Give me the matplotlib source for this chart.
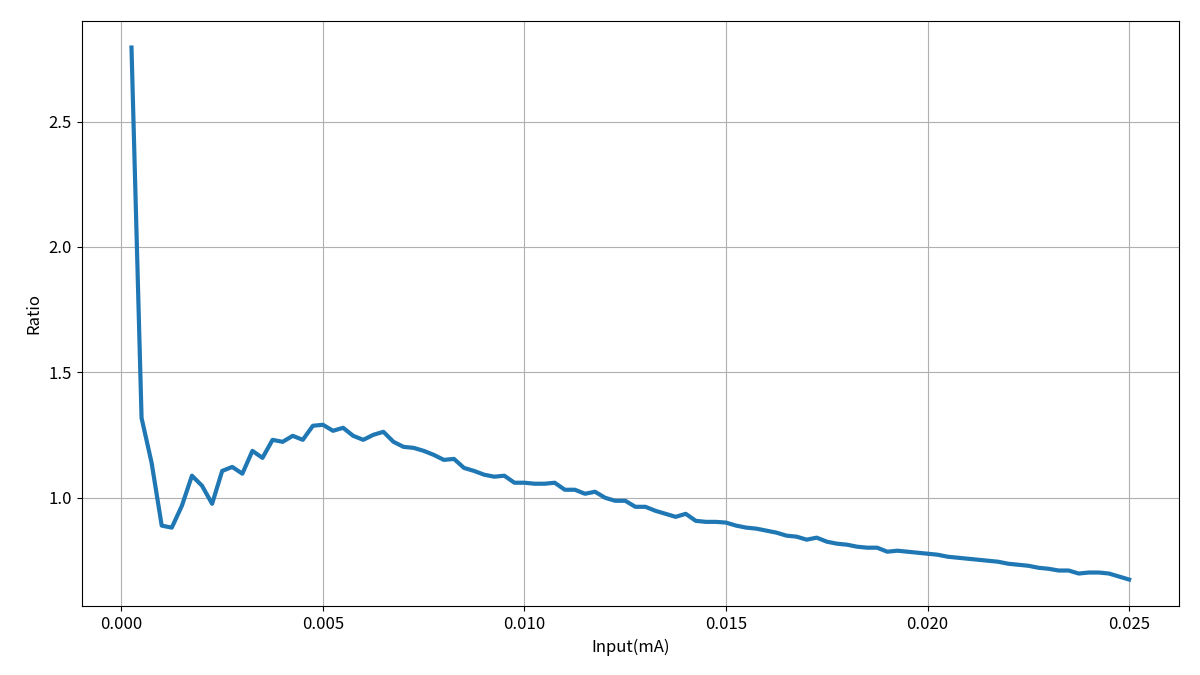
import matplotlib
matplotlib.use("Agg")
import matplotlib.pyplot as plt
import numpy as np

plt.rcParams['font.family'] = ['Noto Sans CJK SC', 'DejaVu Sans']
plt.rcParams['axes.unicode_minus'] = False

# Input current grid (mA), step 0.00025
x = np.arange(1, 101) * 0.00025

ratio = [
    2.795, 1.318, 1.139, 0.889, 0.881, 0.968, 1.088, 1.048, 0.976, 1.107,
    1.123, 1.096, 1.187, 1.159, 1.231, 1.223, 1.247, 1.231, 1.287, 1.291,
    1.267, 1.279, 1.247, 1.231, 1.251, 1.263, 1.223, 1.203, 1.199, 1.187,
    1.171, 1.151, 1.155, 1.119, 1.107, 1.092, 1.084, 1.088, 1.060, 1.060,
    1.056, 1.056, 1.060, 1.032, 1.032, 1.016, 1.024, 1.000, 0.988, 0.988,
    0.964, 0.964, 0.948, 0.936, 0.924, 0.936, 0.908, 0.904, 0.904, 0.901,
    0.889, 0.881, 0.877, 0.869, 0.861, 0.849, 0.845, 0.833, 0.841, 0.825,
    0.817, 0.813, 0.805, 0.801, 0.801, 0.785, 0.789, 0.785, 0.781, 0.777,
    0.773, 0.765, 0.761, 0.757, 0.753, 0.749, 0.745, 0.737, 0.733, 0.729,
    0.721, 0.717, 0.710, 0.710, 0.698, 0.702, 0.702, 0.698, 0.686, 0.674,
]

fig, ax = plt.subplots(figsize=(12, 6.75), dpi=100)
ax.plot(x, ratio, color="#1f77b4", linewidth=3)
ax.set_xlabel("Input(mA)", fontsize=12)
ax.set_ylabel("Ratio", fontsize=12)
ax.tick_params(labelsize=12)
ax.grid(True, color="#b0b0b0", linewidth=0.8)
fig.subplots_adjust(left=0.068, right=0.9825, top=0.969, bottom=0.102)
fig.savefig("out.png")
